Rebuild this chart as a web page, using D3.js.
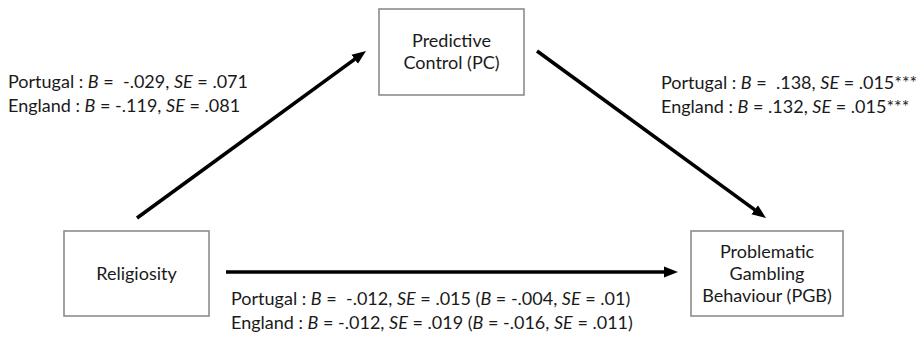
<!DOCTYPE html>
<html>
<head>
<meta charset="utf-8">
<script src="https://cdn.jsdelivr.net/npm/d3@7"></script>
<style>
  body { margin: 0; background: #fff; }
  svg text { font-family: Lato, "Open Sans", sans-serif; fill: #1a1a1a; white-space: pre; }
</style>
</head>
<body>
<div id="chart-area"></div>
<script>
// variables (boxes) and their text lines
var node_ids = ["rel", "pc", "pgb"];
var node_lines = [
    ["Religiosity"],
    ["Predictive", "Control (PC)"],
    ["Problematic", "Gambling", "Behaviour (PGB)"]
];

// paths between variables, _x_ = italic
var path_from = ["rel", "pc", "rel"];
var path_to = ["pc", "pgb", "pgb"];
var path_labels = [
    ["Portugal : _B_ =  -.029, _SE_ = .071", "England : _B_ = -.119, _SE_ = .081"],
    ["Portugal : _B_ =  .138, _SE_ = .015***", "England : _B_ = .132, _SE_ = .015***"],
    ["Portugal : _B_ =  -.012, _SE_ = .015 (_B_ = -.004, _SE_ = .01)", "England : _B_ = -.012, _SE_ = .019 (_B_ = -.016, _SE_ = .011)"]
];

// layout, kept apart from the values
var width = 924, height = 337;
var boxes = {
    rel: {x: 64, y: 231, w: 145, h: 85},
    pc:  {x: 379, y: 9, w: 145, h: 86},
    pgb: {x: 691, y: 231, w: 152, h: 85}
};
var arrows = [
    {x1: 137, y1: 218, x2: 366, y2: 51},
    {x1: 537, y1: 51, x2: 766, y2: 218},
    {x1: 226, y1: 272, x2: 678, y2: 272}
];
var label_pos = [
    {x: 8, y: 88},
    {x: 661, y: 89},
    {x: 231, y: 305}
];
var font_size = 18, line_gap = 24, box_gap = 22;

var svg = d3.select("#chart-area")
            .append("svg")
            .attr("width", width)
            .attr("height", height);

svg.append("defs").append("marker")
    .attr("id", "head")
    .attr("markerUnits", "userSpaceOnUse")
    .attr("viewBox", "0 -6 14 12")
    .attr("markerWidth", 14)
    .attr("markerHeight", 12)
    .attr("refX", 4)
    .attr("refY", 0)
    .attr("orient", "auto")
    .append("path")
    .attr("d", "M0,-5.5L14,0L0,5.5Z")
    .attr("fill", "#000");

// boxes
node_ids.forEach(function(id, i) {
    var b = boxes[id];
    var g = svg.append("g");
    g.append("rect")
        .attr("x", b.x).attr("y", b.y)
        .attr("width", b.w).attr("height", b.h)
        .attr("fill", "#fff")
        .attr("stroke", "#8c8c8c")
        .attr("stroke-width", 1.6);
    var lines = node_lines[i];
    var cy = b.y + b.h / 2 - (lines.length - 1) * box_gap / 2;
    lines.forEach(function(l, k) {
        g.append("text")
            .attr("x", b.x + b.w / 2)
            .attr("y", cy + k * box_gap)
            .attr("dy", "0.35em")
            .attr("text-anchor", "middle")
            .attr("font-size", font_size)
            .text(l);
    });
});

// arrows, shortened so the head tip lands on the end point
arrows.forEach(function(a) {
    var dx = a.x2 - a.x1, dy = a.y2 - a.y1;
    var len = Math.sqrt(dx * dx + dy * dy);
    svg.append("line")
        .attr("x1", a.x1).attr("y1", a.y1)
        .attr("x2", a.x2 - dx / len * 10)
        .attr("y2", a.y2 - dy / len * 10)
        .attr("stroke", "#000")
        .attr("stroke-width", 3.6)
        .attr("marker-end", "url(#head)");
});

// coefficient labels
path_labels.forEach(function(lines, i) {
    lines.forEach(function(l, k) {
        var t = svg.append("text")
            .attr("x", label_pos[i].x)
            .attr("y", label_pos[i].y + k * line_gap)
            .attr("font-size", font_size);
        l.split("_").forEach(function(part, j) {
            if (part === "") return;
            t.append("tspan")
                .attr("font-style", j % 2 ? "italic" : "normal")
                .text(part);
        });
    });
});
</script>
</body>
</html>
